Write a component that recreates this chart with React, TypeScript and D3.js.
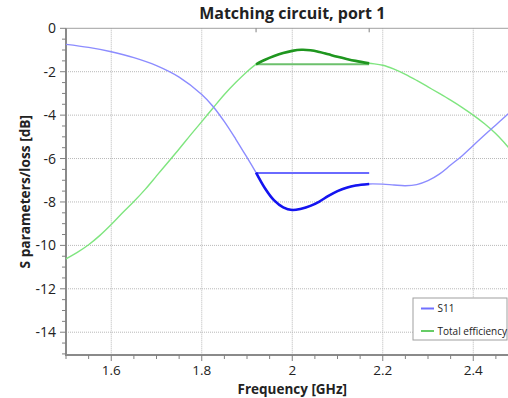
import React from "react";
import * as d3 from "d3";

const freqS11 = [1.5, 1.55, 1.6, 1.65, 1.7, 1.75, 1.8, 1.825, 1.85, 1.875, 1.9, 1.92, 1.94, 1.96, 1.98, 2.0, 2.02, 2.04, 2.06, 2.08, 2.1, 2.12, 2.14, 2.17, 2.2, 2.225, 2.25, 2.275, 2.3, 2.325, 2.35, 2.375, 2.4, 2.425, 2.45, 2.475, 2.5];
const s11 = [-0.74, -0.88, -1.08, -1.35, -1.72, -2.25, -3.05, -3.6, -4.3, -5.1, -5.95, -6.65, -7.38, -7.93, -8.25, -8.37, -8.31, -8.18, -7.98, -7.72, -7.5, -7.34, -7.24, -7.17, -7.18, -7.22, -7.25, -7.2, -7.02, -6.72, -6.3, -5.88, -5.4, -4.92, -4.45, -3.98, -3.52];

const freqEff = [1.5, 1.525, 1.55, 1.575, 1.6, 1.625, 1.65, 1.675, 1.7, 1.725, 1.75, 1.775, 1.8, 1.825, 1.85, 1.875, 1.9, 1.92, 1.94, 1.96, 1.98, 2.0, 2.02, 2.04, 2.06, 2.08, 2.1, 2.12, 2.14, 2.17, 2.2, 2.225, 2.25, 2.275, 2.3, 2.325, 2.35, 2.375, 2.4, 2.425, 2.45, 2.475, 2.5];
const efficiency = [-10.62, -10.32, -9.97, -9.54, -9.04, -8.5, -7.98, -7.42, -6.8, -6.18, -5.56, -4.92, -4.3, -3.67, -3.05, -2.5, -2.0, -1.66, -1.45, -1.28, -1.14, -1.04, -0.99, -1.01, -1.09, -1.2, -1.31, -1.41, -1.5, -1.61, -1.7, -1.88, -2.12, -2.4, -2.7, -3.0, -3.31, -3.64, -4.0, -4.4, -4.86, -5.42, -6.05];

const band = [1.92, 2.17];
const bandLevels = [-6.67, -1.66]; // S11, efficiency

const xTicks = [1.6, 1.8, 2.0, 2.2, 2.4];
const yTicks = [0, -2, -4, -6, -8, -10, -12, -14];
const legendLabels = ["S11", "Total efficiency"];

const W = 508;
const H = 398;
const FONT = "'Open Sans', 'Noto Sans', sans-serif";

export default function App() {
  const x = d3.scaleLinear().domain([1.5, 2.5]).range([66, 518.5]);
  const y = d3.scaleLinear().domain([-15.05, 0]).range([355, 28.3]);
  const left = x(1.5), right = x(2.5), top = y(0), bottom = y(-15.05);

  const line = d3
    .line<[number, number]>()
    .x((d) => x(d[0]))
    .y((d) => y(d[1]))
    .curve(d3.curveCatmullRom.alpha(0.5));

  const s11Pts: [number, number][] = freqS11.map((f, i) => [f, s11[i]]);
  const effPts: [number, number][] = freqEff.map((f, i) => [f, efficiency[i]]);
  const inBand = (p: [number, number]) => p[0] >= band[0] - 1e-9 && p[0] <= band[1] + 1e-9;

  const minorX = d3.range(1.5, 2.5001, 0.05);
  const minorY = d3.range(0, -15.01, -0.5);

  return (
    <svg width={W} height={H} style={{ position: "absolute", left: 0, top: 0, background: "#fff" }}>
      <rect x={0} y={0} width={W} height={H} fill="#fff" />
      {/* grid */}
      {xTicks.map((t) => (
        <line key={"gx" + t} x1={x(t)} x2={x(t)} y1={top} y2={bottom} stroke="#b8b8b8" strokeWidth={1} strokeDasharray="1,1" />
      ))}
      {yTicks.filter((t) => t !== 0).map((t) => (
        <line key={"gy" + t} x1={left} x2={right} y1={y(t)} y2={y(t)} stroke="#b8b8b8" strokeWidth={1} strokeDasharray="1,1" />
      ))}
      {/* frame */}
      <line x1={left} x2={right} y1={top} y2={top} stroke="#a0a0a0" strokeWidth={1} />
      <line x1={left} x2={left} y1={top} y2={bottom} stroke="#8a8a8a" strokeWidth={2} />
      <line x1={left - 1} x2={right} y1={bottom} y2={bottom} stroke="#8a8a8a" strokeWidth={2} />
      {/* minor ticks */}
      {minorX.map((t) => (
        <line key={"mx" + t} x1={x(t)} x2={x(t)} y1={bottom} y2={bottom + (xTicks.some((m) => Math.abs(m - t) < 1e-6) ? 6 : 4)} stroke="#808080" strokeWidth={1} />
      ))}
      {minorY.map((t) => (
        <line key={"my" + t} x1={left - (Math.abs(t % 2) < 1e-6 ? 6 : 4)} x2={left} y1={y(t)} y2={y(t)} stroke="#808080" strokeWidth={1} />
      ))}
      {band.map((b) => (
        <line key={"bt" + b} x1={x(b)} x2={x(b)} y1={top} y2={top + 4} stroke="#808080" strokeWidth={1} />
      ))}
      {/* tick labels */}
      {xTicks.map((t) => (
        <text key={"xl" + t} x={x(t)} y={375} textAnchor="middle" fontFamily={FONT} fontSize={13.5} fill="#222">
          {d3.format("")(t)}
        </text>
      ))}
      {yTicks.map((t) => (
        <text key={"yl" + t} x={56} y={y(t) + 5} textAnchor="end" fontFamily={FONT} fontSize={14} fill="#222">
          {t === 0 ? "0" : "-" + Math.abs(t)}
        </text>
      ))}
      {/* curves */}
      <path d={line(effPts) || ""} fill="none" stroke="#7fe57f" strokeWidth={1.4} />
      <path d={line(s11Pts) || ""} fill="none" stroke="#8c8cff" strokeWidth={1.4} />
      <line x1={x(band[0])} x2={x(band[1])} y1={y(bandLevels[1])} y2={y(bandLevels[1])} stroke="#6cc06c" strokeWidth={2} />
      <line x1={x(band[0])} x2={x(band[1])} y1={y(bandLevels[0])} y2={y(bandLevels[0])} stroke="#6a6aff" strokeWidth={2} />
      <path d={line(effPts.filter(inBand)) || ""} fill="none" stroke="#1f961f" strokeWidth={2.6} />
      <path d={line(s11Pts.filter(inBand)) || ""} fill="none" stroke="#1414f0" strokeWidth={2.6} />
      {/* titles */}
      <text x={(left + right) / 2} y={18.5} textAnchor="middle" fontFamily={FONT} fontWeight="bold" fontSize={16} fill="#222">
        Matching circuit, port 1
      </text>
      <text x={(left + right) / 2} y={393.5} textAnchor="middle" fontFamily={FONT} fontWeight="bold" fontSize={13.5} fill="#222">
        Frequency [GHz]
      </text>
      <text transform={`translate(29.5,${(top + bottom) / 2}) rotate(-90)`} textAnchor="middle" fontFamily={FONT} fontWeight="bold" fontSize={13.7} fill="#222">
        S parameters/loss [dB]
      </text>
      {/* legend */}
      <rect x={413} y={298} width={94} height={42} fill="#fff" stroke="#a0a0a0" strokeWidth={1} />
      {legendLabels.map((lab, i) => (
        <g key={lab}>
          <line x1={421} x2={434} y1={308.5 + i * 22.5} y2={308.5 + i * 22.5} stroke={i === 0 ? "#7070ff" : "#66cc66"} strokeWidth={2} />
          <text x={437.5} y={312 + i * 22.5} fontFamily={FONT} fontSize={10} fill="#222">
            {lab}
          </text>
        </g>
      ))}
    </svg>
  );
}
